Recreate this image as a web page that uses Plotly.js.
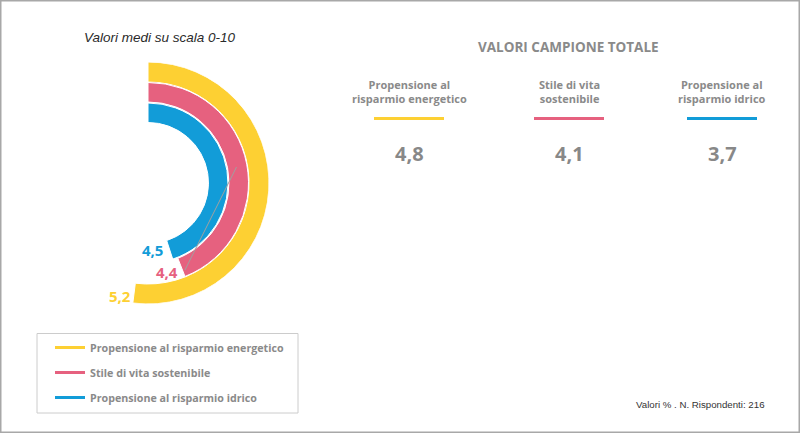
<!DOCTYPE html>
<html>
<head>
<meta charset="utf-8">
<script src="https://cdn.plot.ly/plotly-3.0.1.min.js"></script>
<style>html,body{margin:0;padding:0;background:#fff;}#chart{width:800px;height:433px;}</style>
</head>
<body>
<div id="chart"></div>
<script>
// ---- data ----
var seriesNames = ["Propensione al risparmio energetico", "Stile di vita sostenibile", "Propensione al risparmio idrico"];
var seriesValues = [5.2, 4.4, 4.5];           // valori medi (scala 0-10)
var totalLabels = ["Propensione al<br>risparmio energetico", "Stile di vita<br>sostenibile", "Propensione al<br>risparmio idrico"];
var totalValues = [4.8, 4.1, 3.7];            // valori campione totale
var scaleMax = 10;

// ---- style ----
var colors = ["#FDD033", "#E6617F", "#129CD8"];
var bandBase = [10.1, 8.1, 6.05];
var bandThick = [2.0, 1.95, 1.95];
var W = 800, H = 433;
function px(x){ return x / W; }
function py(y){ return 1 - y / H; }
function fmt(v){ return v.toFixed(1).replace('.', ','); }

var cx = 148, cy = 183, R = 121;

var traces = [];
seriesValues.forEach(function(v, i){
  var deg = v / scaleMax * 360;
  traces.push({
    type: 'barpolar',
    r: [bandThick[i]],
    base: [bandBase[i]],
    theta: [deg / 2],
    width: [deg],
    marker: {color: colors[i], line: {color: '#ffffff', width: 1}},
    showlegend: false,
    hoverinfo: 'skip'
  });
});
seriesNames.forEach(function(n, i){
  traces.push({
    type: 'scatter', mode: 'lines',
    x: [null], y: [null],
    name: n, legendgroup: 'g' + i,
    line: {color: colors[i], width: 3},
    showlegend: true, hoverinfo: 'skip'
  });
});

var annotations = [];
var shapes = [];
// title
annotations.push({xref:'paper', yref:'paper', x: px(160), y: py(37), xanchor:'center', yanchor:'middle',
  text:'<i>Valori medi su scala 0-10</i>', showarrow:false,
  font:{family:'Liberation Sans, Arial, sans-serif', size:13.5, color:'#2a2a2a'}});
// arc value labels
var labelPos = [[120, 296], [166.5, 271.5], [152.5, 250]];
seriesValues.forEach(function(v, i){
  annotations.push({xref:'paper', yref:'paper', x: px(labelPos[i][0]), y: py(labelPos[i][1]),
    xanchor:'center', yanchor:'middle', text:'<b>' + fmt(v) + '</b>', showarrow:false,
    font:{family:'Open Sans, sans-serif', size:15, color:colors[i]}});
});
// leader line
shapes.push({type:'line', xref:'paper', yref:'paper', x0:px(236.5), y0:py(167), x1:px(185), y1:py(270),
  line:{color:'#a0a0a0', width:1}});

// right panel
annotations.push({xref:'paper', yref:'paper', x: px(568), y: py(47), xanchor:'center', yanchor:'middle',
  text:'<b>VALORI CAMPIONE TOTALE</b>', showarrow:false,
  font:{family:'Open Sans, sans-serif', size:13.5, color:'#8a8a8a'}});
var colX = [409, 569, 722];
totalValues.forEach(function(v, i){
  annotations.push({xref:'paper', yref:'paper', x: px(colX[i]), y: py(91), xanchor:'center', yanchor:'middle',
    text:'<b>' + totalLabels[i] + '</b>', showarrow:false, align:'center',
    font:{family:'Open Sans, sans-serif', size:11, color:'#8a8a8a'}});
  shapes.push({type:'line', xref:'paper', yref:'paper', x0:px(colX[i]-35), x1:px(colX[i]+35), y0:py(118.5), y1:py(118.5),
    line:{color:colors[i], width:3}});
  annotations.push({xref:'paper', yref:'paper', x: px(colX[i]), y: py(153), xanchor:'center', yanchor:'middle',
    text:'<b>' + fmt(v) + '</b>', showarrow:false,
    font:{family:'Open Sans, sans-serif', size:20, color:'#888888'}});
});

// footer
annotations.push({xref:'paper', yref:'paper', x: px(767), y: py(404), xanchor:'right', yanchor:'middle',
  text:'Valori % . N. Rispondenti: 216', showarrow:false,
  font:{family:'Liberation Sans, Arial, sans-serif', size:9.7, color:'#333333'}});

// legend box
shapes.push({type:'rect', xref:'paper', yref:'paper', x0:px(37), x1:px(298), y0:py(333.5), y1:py(413),
  line:{color:'#cccccc', width:1}, fillcolor:'rgba(0,0,0,0)'});

// frame
shapes.push({type:'rect', xref:'paper', yref:'paper', x0:px(0.75), x1:px(799.25), y0:py(0.75), y1:py(432.25),
  line:{color:'#a8a8a8', width:1.5}, fillcolor:'rgba(0,0,0,0)'});

var layout = {
  width: W, height: H,
  margin: {l:0, r:0, t:0, b:0},
  paper_bgcolor: '#ffffff', plot_bgcolor: '#ffffff',
  showlegend: true,
  legend: {x: px(50), y: py(333), xanchor:'left', yanchor:'top',
    borderwidth:0, bgcolor:'rgba(0,0,0,0)',
    tracegroupgap: 6,
    font:{family:'Open Sans, sans-serif', size:10.7, color:'#8a8a8a', weight: 'bold'}},
  xaxis: {visible:false}, yaxis: {visible:false},
  polar: {
    domain: {x:[px(cx-R), px(cx+R)], y:[py(cy+R), py(cy-R)]},
    bgcolor: 'rgba(0,0,0,0)',
    hole: 0,
    radialaxis: {visible:false, range:[0, 12.1]},
    angularaxis: {visible:false, rotation:90, direction:'clockwise', thetaunit:'degrees'}
  },
  annotations: annotations,
  shapes: shapes
};

Plotly.newPlot('chart', traces, layout, {displayModeBar:false, staticPlot:true});
</script>
</body>
</html>
